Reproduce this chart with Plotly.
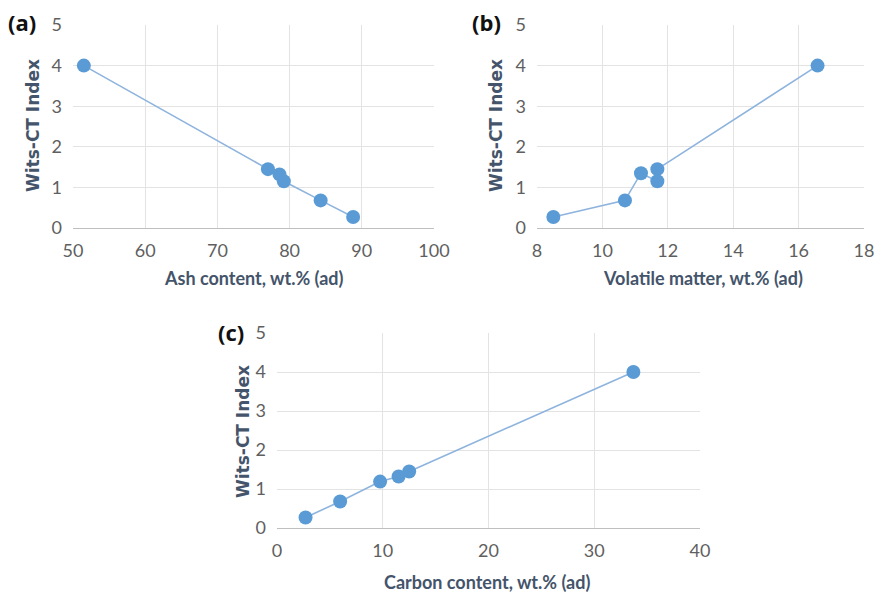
import plotly.graph_objects as go

# Data
ash_content = [51.5, 77.0, 78.6, 79.2, 84.3, 88.8]
ash_index = [4.0, 1.45, 1.32, 1.15, 0.68, 0.27]

volatile_matter = [8.5, 10.69, 11.18, 11.68, 11.68, 16.58]
vm_index = [0.27, 0.68, 1.35, 1.15, 1.45, 4.0]

carbon_content = [2.7, 5.97, 9.75, 11.5, 12.5, 33.7]
carbon_index = [0.27, 0.68, 1.19, 1.32, 1.45, 4.0]

y_ticks = [0, 1, 2, 3, 4, 5]

W, H = 879, 596
MARKER = "#5B9BD5"
LINE = "#8EB4DE"
TICK = "#5F5F5F"
TITLE = "#44546A"
GRID = "#E3E3E3"
FONT = "Lato"

def fx(px):
    return px / W

def fy(py):
    return 1 - py / H

fig = go.Figure()

panels = [
    dict(x=ash_content, y=ash_index, xa="x", ya="y"),
    dict(x=volatile_matter, y=vm_index, xa="x2", ya="y2"),
    dict(x=carbon_content, y=carbon_index, xa="x3", ya="y3"),
]
for p in panels:
    fig.add_trace(go.Scatter(
        x=p["x"], y=p["y"], xaxis=p["xa"], yaxis=p["ya"],
        mode="lines+markers",
        line=dict(color=LINE, width=1.6),
        marker=dict(color=MARKER, size=14),
        showlegend=False, cliponaxis=False,
    ))

def xaxis(dom, rng, dtick, anchor):
    return dict(domain=dom, range=rng, dtick=dtick, tick0=rng[0], anchor=anchor,
                automargin=False, ticklabeloverflow="allow",
                showgrid=True, gridcolor=GRID, gridwidth=1,
                showline=True, linecolor="#BFBFBF", linewidth=1.2,
                zeroline=False, ticks="", ticklabelstandoff=6,
                tickfont=dict(family=FONT, size=18, color=TICK))

def yaxis(dom, anchor):
    return dict(domain=dom, range=[0, 5], tickvals=y_ticks, anchor=anchor,
                automargin=False, ticklabeloverflow="allow",
                showgrid=True, gridcolor=GRID, gridwidth=1,
                showline=False, zeroline=False, ticks="", ticklabelstandoff=10,
                tickfont=dict(family=FONT, size=18, color=TICK))

fig.update_layout(
    template="none",
    width=W, height=H,
    margin=dict(l=0, r=0, t=0, b=0, autoexpand=False),
    paper_bgcolor="white", plot_bgcolor="white",
    xaxis=xaxis([fx(73), fx(434)], [50, 100], 10, "y"),
    yaxis=yaxis([fy(228), fy(25)], "x"),
    xaxis2=xaxis([fx(537), fx(864)], [8, 18], 2, "y2"),
    yaxis2=yaxis([fy(228), fy(25)], "x2"),
    xaxis3=xaxis([fx(277), fx(700)], [0, 40], 10, "y3"),
    yaxis3=yaxis([fy(528), fy(333)], "x3"),
)

def ann(text, cx, cy, size, color, angle=0, bold=True, family=FONT):
    fig.add_annotation(
        text=f"<b>{text}</b>" if bold else text,
        x=fx(cx), y=fy(cy), xref="paper", yref="paper",
        xanchor="center", yanchor="middle", showarrow=False, textangle=angle,
        font=dict(family=family, size=size, color=color),
    )

# Axis titles
ann("Ash content, wt.% (ad)", 253, 278, 18, TITLE)
ann("Volatile matter, wt.% (ad)", 703, 278, 18, TITLE)
ann("Carbon content, wt.% (ad)", 487, 582, 18, TITLE)
ann("Wits-CT Index", 33, 126, 17, TITLE, angle=-90, family="DejaVu Sans")
ann("Wits-CT Index", 496, 126, 17, TITLE, angle=-90, family="DejaVu Sans")
ann("Wits-CT Index", 243, 432, 17, TITLE, angle=-90, family="DejaVu Sans")

# Panel labels
ann("(a)", 22, 22, 22, "#111111", family="Open Sans")
ann("(b)", 486, 22, 22, "#111111", family="Open Sans")
ann("(c)", 231, 332, 22, "#111111", family="Open Sans")

fig.write_html(
    "out.html",
    config={"displayModeBar": False},
    post_script="document.body.style.margin='0';document.body.style.overflow='hidden';",
)
